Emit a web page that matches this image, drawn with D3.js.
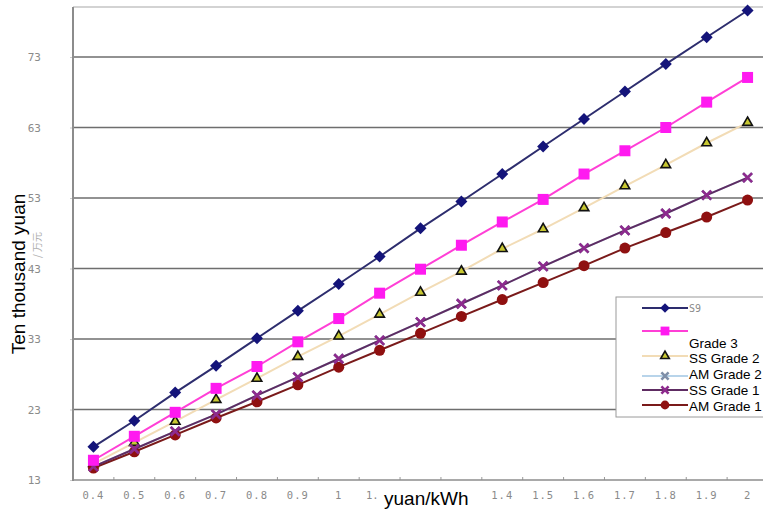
<!DOCTYPE html>
<html><head><meta charset="utf-8">
<script src="https://cdn.jsdelivr.net/npm/d3@7"></script>
<style>html,body{margin:0;padding:0;background:#fff;}svg{display:block;}</style>
</head><body>
<svg id="c" width="763" height="517"></svg>
<script>
const categories = ["0.4","0.5","0.6","0.7","0.8","0.9","1","1.1","1.2","1.3","1.4","1.5","1.6","1.7","1.8","1.9","2"];
const yTicks = [13,23,33,43,53,63,73];
const s9 = [17.7,21.4,25.4,29.2,33.1,37.0,40.8,44.7,48.7,52.5,56.4,60.3,64.2,68.1,72.0,75.8,79.6];
const grade3 = [15.8,19.2,22.6,26.0,29.1,32.6,35.9,39.5,42.9,46.3,49.6,52.8,56.4,59.7,63.0,66.6,70.1];
const ssGrade2 = [15.3,18.3,21.3,24.4,27.4,30.5,33.4,36.5,39.6,42.6,45.8,48.6,51.6,54.7,57.7,60.8,63.7];
const amGrade2 = [14.9,17.4,19.9,22.3,25.0,27.6,30.2,32.8,35.4,38.0,40.6,43.3,45.9,48.4,50.8,53.4,55.9];
const ssGrade1 = [14.9,17.4,19.9,22.3,25.0,27.6,30.2,32.8,35.4,38.0,40.6,43.3,45.9,48.4,50.8,53.4,55.9];
const amGrade1 = [14.7,17.0,19.4,21.8,24.1,26.5,29.0,31.4,33.8,36.2,38.6,41.0,43.4,45.9,48.1,50.3,52.7];
// tick labels as visible in the picture (1.1 partly hidden, 1.2 / 1.3 hidden behind the axis title)
const xTickLabels = ["0.4","0.5","0.6","0.7","0.8","0.9","1","1.","","","1.4","1.5","1.6","1.7","1.8","1.9","2"];

const svg = d3.select("#c");
const L = 73, R = 768, B = 480, T = 7;
const x = d3.scaleBand().domain(categories).range([L, R]).padding(0);
const y = d3.scaleLinear().domain([13, 73]).range([B, 57]);
const cx = d => x(d) + x.bandwidth()/2;

svg.append("line").attr("x1",L).attr("x2",763).attr("y1",T).attr("y2",T).attr("stroke","#c4c4c4").attr("stroke-width",1.5);

svg.append("g").selectAll("line").data(yTicks.slice(1)).join("line")
  .attr("x1",L).attr("x2",763).attr("y1",d=>y(d)).attr("y2",d=>y(d))
  .attr("stroke","#6e6e6e").attr("stroke-width",1.6);

const ya = svg.append("g").attr("transform",`translate(${L},0)`)
  .call(d3.axisLeft(y).tickValues(yTicks).tickSize(3).tickPadding(29).tickFormat(d3.format("d")));
ya.select(".domain").remove();
ya.selectAll(".tick line").attr("stroke","#ccc");
ya.selectAll("text").attr("fill","#8a8a8a").style("font-family","'DejaVu Sans Mono', monospace").style("font-size","11px").attr("text-anchor","end");
svg.append("line").attr("x1",L).attr("x2",L).attr("y1",T).attr("y2",B+1).attr("stroke","#8c8c8c").attr("stroke-width",2);

const xa = svg.append("g").attr("transform",`translate(0,${B})`)
  .call(d3.axisBottom(x).tickSize(0).tickPadding(12).tickFormat((d,i)=>xTickLabels[i]));
xa.select(".domain").remove();
xa.selectAll("text").attr("fill","#8a8a8a").style("font-family","'DejaVu Sans Mono', monospace").style("font-size","10.5px").attr("letter-spacing","1px");
xa.selectAll("text").filter(d=>d==="1.1").attr("text-anchor","end").attr("dx","-1").attr("letter-spacing","0px");
svg.append("g").selectAll("line").data(categories.slice(1)).join("line")
  .attr("x1",d=>x(d)).attr("x2",d=>x(d)).attr("y1",B).attr("y2",B-3).attr("stroke","#999");
svg.append("line").attr("x1",L).attr("x2",763).attr("y1",B).attr("y2",B).attr("stroke","#8c8c8c").attr("stroke-width",1.5);

const cfg = [
  {name:"AM Grade 2", data:amGrade2, line:"#b8d4ea", color:"#7f8fa8", mk:"x"},
  {name:"SS Grade 2", data:ssGrade2, line:"#f2dcb6", color:"#c8c832", mk:"tri"},
  {name:"AM Grade 1", data:amGrade1, line:"#7a1a1a", color:"#8f1010", mk:"circle"},
  {name:"SS Grade 1", data:ssGrade1, line:"#5e2c62", color:"#8e2a8e", mk:"x"},
  {name:"Grade 3", data:grade3, line:"#ff3fd6", color:"#ff1af0", mk:"square"},
  {name:"S9", data:s9, line:"#2d2d6e", color:"#14147a", mk:"diamond"}
];
const lineGen = d3.line().x((d,i)=>cx(categories[i])).y(d=>y(d));
function drawMarker(g, type, color, px, py, s){
  if(type==="diamond") g.append("path").attr("d",`M${px},${py-6*s}L${px+6*s},${py}L${px},${py+6*s}L${px-6*s},${py}Z`).attr("fill",color);
  else if(type==="square") g.append("rect").attr("x",px-5.5*s).attr("y",py-5.5*s).attr("width",11*s).attr("height",11*s).attr("fill",color);
  else if(type==="tri") g.append("path").attr("d",d3.symbol(d3.symbolTriangle, 40*s)()).attr("transform",`translate(${px},${py})`).attr("fill",color).attr("stroke","#111").attr("stroke-width",1.6);
  else if(type==="circle") g.append("circle").attr("cx",px).attr("cy",py).attr("r",5.5*s).attr("fill",color);
  else if(type==="x") g.append("path").attr("d",`M${px-4.5*s},${py-4.5*s}L${px+4.5*s},${py+4.5*s}M${px-4.5*s},${py+4.5*s}L${px+4.5*s},${py-4.5*s}`).attr("stroke",color).attr("stroke-width",2.6);
}
const sg = svg.append("g");
cfg.forEach(c=>{
  sg.append("path").datum(c.data).attr("d",lineGen).attr("fill","none").attr("stroke",c.line).attr("stroke-width",2);
  const mg = sg.append("g");
  c.data.forEach((v,i)=>drawMarker(mg,c.mk,c.color,cx(categories[i]),y(v),1));
});

const lg = svg.append("g");
lg.append("rect").attr("x",616).attr("y",297).attr("width",160).attr("height",120).attr("fill","#fff").attr("stroke","#9a9a9a").attr("stroke-width",1);
const legendRows = [
  {name:"S9", my:308, ty:308, gray:true},
  {name:"Grade 3", my:331, ty:343},
  {name:"SS Grade 2", my:356, ty:358},
  {name:"AM Grade 2", my:376, ty:374},
  {name:"SS Grade 1", my:390, ty:390},
  {name:"AM Grade 1", my:405, ty:406}
];
legendRows.forEach(r=>{
  const c = cfg.find(k=>k.name===r.name);
  lg.append("line").attr("x1",642).attr("x2",688).attr("y1",r.my).attr("y2",r.my).attr("stroke",c.line).attr("stroke-width",2);
  drawMarker(lg,c.mk,c.color,665,r.my,0.8);
  lg.append("text").attr("x",689).attr("y",r.ty).attr("dy","0.35em").text(r.name)
    .attr("fill", r.gray ? "#8a8a8a" : "#000")
    .style("font-family", r.gray ? "'DejaVu Sans Mono', monospace" : "Arial, 'Liberation Sans', sans-serif")
    .style("font-size", r.gray ? "10px" : "13.5px");
});

svg.append("text").attr("transform","translate(41,245) rotate(-90)").attr("text-anchor","middle")
  .attr("fill","#b0b0b0").style("font-family","'Noto Sans CJK SC', sans-serif").style("font-size","10px").text("/ 万元");
svg.append("text").attr("transform","translate(25,274) rotate(-90)").attr("text-anchor","middle")
  .attr("fill","#000").style("font-family","Arial, 'Liberation Sans', sans-serif").style("font-size","19px").text("Ten thousand yuan");
const xt = svg.append("g");
xt.append("rect").attr("x",382).attr("y",486).attr("width",104).attr("height",31).attr("fill","#fff");
xt.append("text").attr("x",384).attr("y",505).attr("fill","#000").style("font-family","Arial, 'Liberation Sans', sans-serif").style("font-size","19px").text("yuan/kWh");
</script>
</body></html>
